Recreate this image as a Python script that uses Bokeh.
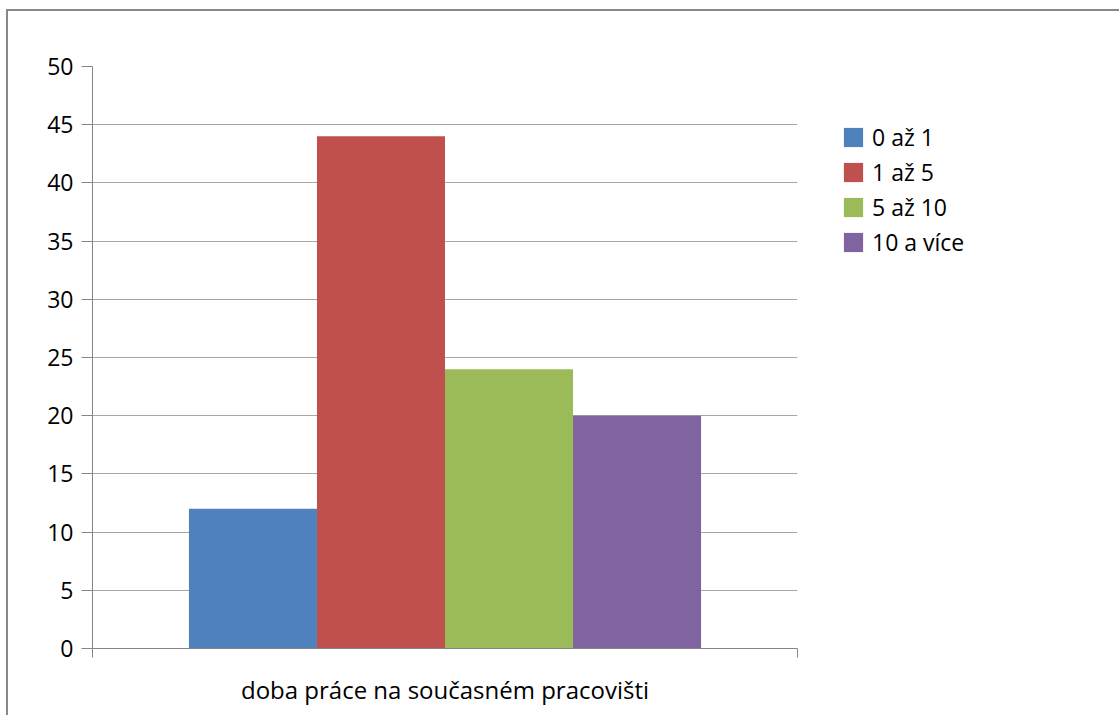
from bokeh.plotting import figure
from bokeh.models import Range1d, FixedTicker, Legend, LegendItem, ColumnDataSource
from bokeh.embed import file_html
from bokeh.resources import INLINE

# Data
category = "doba práce na současném pracovišti"
series = ["0 až 1", "1 až 5", "5 až 10", "10 a více"]
values = [12, 44, 24, 20]
colors = ["#4F81BD", "#C0504D", "#9BBB59", "#8064A2"]
y_ticks = [0, 5, 10, 15, 20, 25, 30, 35, 40, 45, 50]

FONT = "Open Sans"
GRID = "#a6a6a6"
AXIS = "#868686"
FS = "23px"

p = figure(frame_width=705, frame_height=582, output_backend="svg",
           toolbar_location=None,
           x_range=Range1d(0, 1), y_range=Range1d(0, 50),
           min_border_left=84, min_border_right=328,
           min_border_top=55, min_border_bottom=67)
p.margin = (9, 0, 0, 6)
p.styles = {"border-left": "2px solid #888888", "border-top": "2px solid #888888"}
p.outline_line_color = None
p.background_fill_color = "white"
p.border_fill_color = "white"

# Grouped bars around the single category at x = 0.5
bar_w = 0.1816
n = len(series)
xs = [0.5 + (i - (n - 1) / 2) * bar_w for i in range(n)]
src = ColumnDataSource(dict(x=xs, top=values, color=colors))
r = p.vbar(x="x", top="top", width=bar_w, bottom=0, fill_color="color",
           line_color=None, source=src)

# Axes and grid
p.xgrid.visible = False
p.ygrid.grid_line_color = GRID
p.ygrid.ticker = FixedTicker(ticks=y_ticks)

ya = p.yaxis[0]
ya.ticker = FixedTicker(ticks=y_ticks)
ya.axis_line_color = AXIS
ya.major_tick_line_color = AXIS
ya.major_tick_out = 11
ya.major_tick_in = 0
ya.minor_tick_line_color = None
ya.major_label_standoff = 8
ya.major_label_text_font = FONT
ya.major_label_text_font_size = FS
ya.major_label_text_color = "#000000"

xa = p.xaxis[0]
xa.ticker = FixedTicker(ticks=[0.5], minor_ticks=[0, 1])
xa.major_label_overrides = {0.5: category}
xa.axis_line_color = AXIS
xa.major_tick_line_color = None
xa.minor_tick_line_color = AXIS
xa.minor_tick_out = 9
xa.minor_tick_in = 0
xa.major_label_standoff = 15
xa.major_label_text_font = FONT
xa.major_label_text_font_size = "24px"
xa.major_label_text_color = "#000000"

# Legend in the right-hand panel
items = [LegendItem(label=series[i], renderers=[r], index=i) for i in range(n)]
legend = Legend(items=items, location=(44, 390),
                glyph_width=24, glyph_height=24, label_height=20,
                spacing=3, padding=0, margin=0, label_standoff=7,
                border_line_color=None, background_fill_alpha=0,
                label_text_font=FONT, label_text_font_size=FS,
                label_text_color="#000000")
p.add_layout(legend, "right")

open("out.html", "w").write(file_html(p, INLINE))
